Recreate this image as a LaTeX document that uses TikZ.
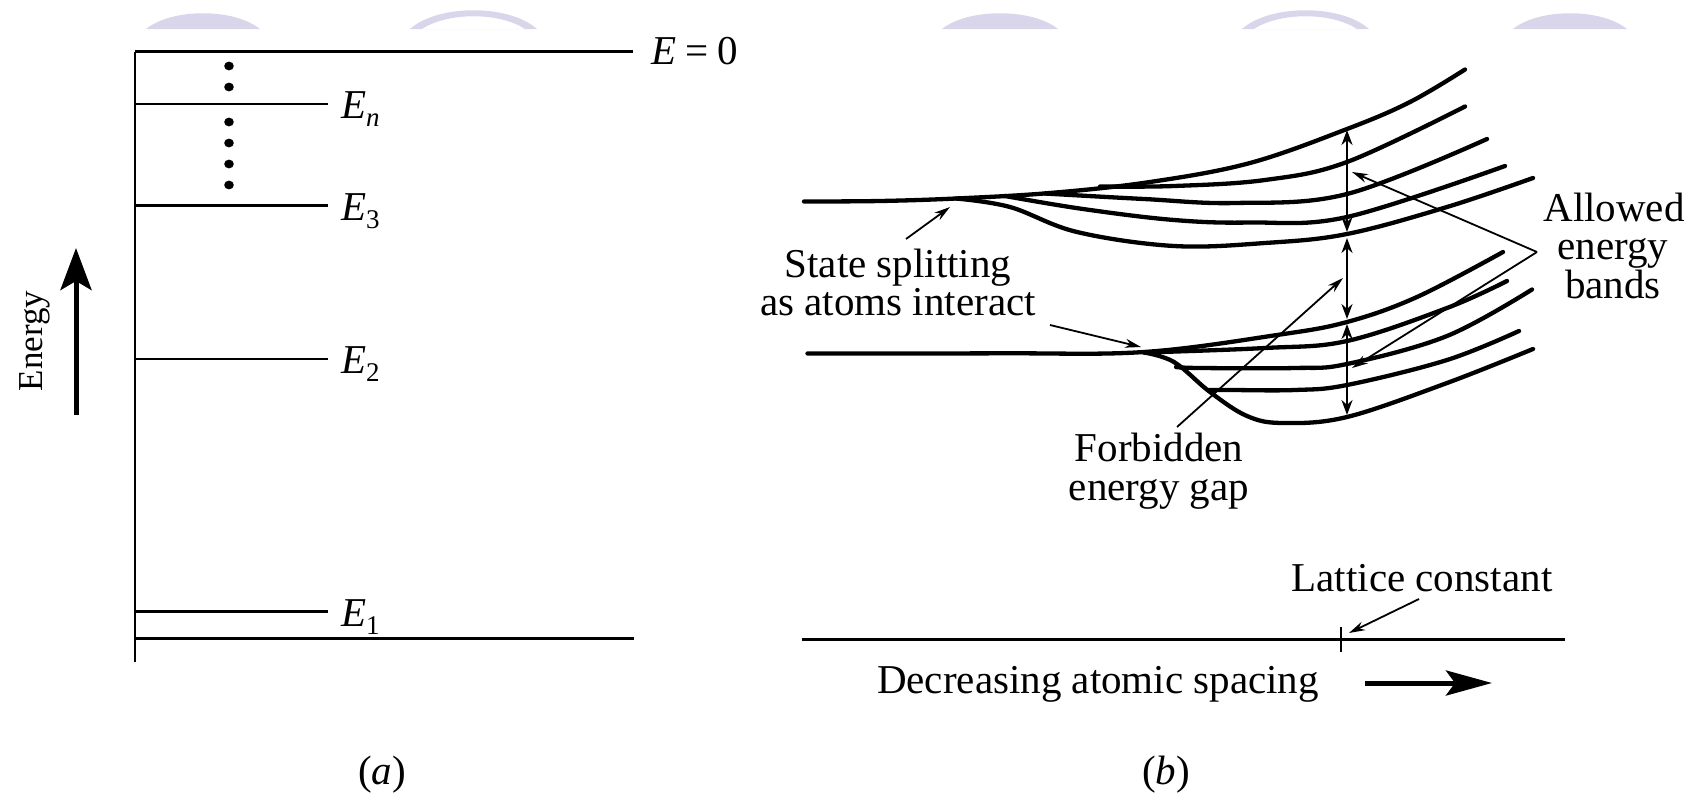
\documentclass[tikz,border=0pt]{standalone}
\usepackage{fontspec}
\setmainfont{Liberation Serif}
\usetikzlibrary{arrows.meta}
\definecolor{wmcol}{RGB}{217,214,236}
\newcommand{\Elvl}[1]{\textit{E}\raisebox{-8pt}{\fontsize{27}{27}\selectfont #1}}
\begin{document}
\begin{tikzpicture}[x=1pt,y=-1pt,
  lbl/.style={font=\fontsize{41}{39}\selectfont, inner sep=0pt},
  lvl/.style={line width=2.6pt},
  axisl/.style={line width=3pt},
  band/.style={line width=4.3pt, line cap=round, line join=round},
  lead/.style={line width=1.8pt, -{Stealth[length=16pt,width=9pt]}},
  dbl/.style={line width=2.2pt, {Stealth[length=15pt,width=11pt]}-{Stealth[length=15pt,width=11pt]}},
  wm/.style={fill=wmcol},
  dotmark/.style={fill=black}]
\useasboundingbox (0,0) rectangle (1701,793);

% watermark arches
\fill[wm] (146,29) .. controls (172,8) and (234,8) .. (260,29) -- cycle;
\fill[wm] (942,29) .. controls (968,8) and (1032,8) .. (1058,29) -- cycle;
\fill[wm] (1513,29) .. controls (1539,8) and (1601,8) .. (1627,29) -- cycle;
\fill[wm, even odd rule] (410,29) .. controls (438,4) and (509,4) .. (537,29) -- cycle
   (422,29) .. controls (448,12) and (499,12) .. (525,29) -- cycle;
\fill[wm, even odd rule] (1242,29) .. controls (1270,4) and (1341,4) .. (1369,29) -- cycle
   (1254,29) .. controls (1280,12) and (1331,12) .. (1357,29) -- cycle;

% ---------- panel (a) ----------
\coordinate (axT) at (135,51.7);
\coordinate (axB) at (135,662);
\draw[lvl] (axT) -- (axB);
\draw[axisl] (135,51.7) -- (633,51.7);
\draw[axisl] (135,638.7) -- (634,638.7);
\draw[lvl] (135,104) -- (328,104);
\draw[lvl] (135,205.7) -- (328,205.7);
\draw[lvl] (135,359) -- (328,359);
\draw[lvl] (135,611.7) -- (328,611.7);

\node[lbl, anchor=base west] (lE0) at (651,64) {\textit{E}\hspace{0.22em}=\hspace{0.22em}0};
\node[lbl, anchor=base west] (lEn) at (341,118) {\Elvl{\textit{n}}};
\node[lbl, anchor=base west] (lE3) at (341,220) {\Elvl{3}};
\node[lbl, anchor=base west] (lE2) at (341,373) {\Elvl{2}};
\node[lbl, anchor=base west] (lE1) at (341,626) {\Elvl{1}};

\foreach \yy in {66,87,122,143,164,185}
  \fill[dotmark] (229,\yy) ellipse [x radius=4.8, y radius=4.4];

\coordinate (enB) at (76,415);
\coordinate (enT) at (76,248);
\draw[line width=5pt, -{Stealth[length=42pt,width=31pt,inset=9pt]}] (enB) -- (enT);
\node[lbl, font=\fontsize{35}{35}\selectfont, anchor=base, rotate=90] (lEnergy) at (42,341) {Energy};

\node[lbl, anchor=base] (la) at (382,784) {(\textit{a})};

% ---------- panel (b) ----------
% upper band
\draw[band] plot[smooth, tension=0.6] coordinates {(804,201.5) (880,201) (956,198.5) (1050,193) (1150,182) (1250,163) (1347,129) (1410,102) (1465,69.5)};
\draw[band] plot[smooth, tension=0.6] coordinates {(1100,186.5) (1174,186) (1265,180) (1347,162) (1465,106.5)};
\draw[band] plot[smooth, tension=0.6] coordinates {(1045,193.5) (1144,199) (1235,203) (1347,194) (1487,139)};
\draw[band] plot[smooth, tension=0.6] coordinates {(1005,196) (1083,209) (1174,220) (1250,222.5) (1347,217) (1505,166)};
\draw[band] plot[smooth, tension=0.6] coordinates {(956,198.5) (1010,207) (1077,232) (1174,246) (1265,243) (1347,234) (1447,207) (1533,178)};

% lower band
\draw[band] plot[smooth, tension=0.6] coordinates {(807.5,353.5) (1000,353.3) (1144,352) (1277,335) (1347,322) (1417,297) (1503,252)};
\draw[band] plot[smooth, tension=0.6] coordinates {(1144,352.5) (1265,348) (1347,341) (1447,308) (1507,281)};
\draw[band] plot[smooth, tension=0.6] coordinates {(1144,352.5) (1174,362) (1210,392) (1247,416) (1283,423) (1347,417) (1447,383) (1533,349)};
\draw[band] plot[smooth, tension=0.6] coordinates {(1176,367) (1200,368) (1295,368) (1347,364) (1447,336) (1532,289.5)};
\draw[band] plot[smooth, tension=0.6] coordinates {(1209,390) (1230,390) (1295,390) (1347,385) (1447,360) (1519,331)};

% vertical double arrows
\coordinate (v1t) at (1347,130);
\coordinate (v1b) at (1347,232);
\coordinate (v2t) at (1347,238);
\coordinate (v2b) at (1347,319);
\coordinate (v3t) at (1347,324);
\coordinate (v3b) at (1347,415);
\draw[dbl] (v1t) -- (v1b);
\draw[dbl] (v2t) -- (v2b);
\draw[dbl] (v3t) -- (v3b);

% labels
\node[lbl, anchor=base] (ss1) at (898,277) {State splitting};
\node[lbl, anchor=base] (ss2) at (898,315) {as atoms interact};
\node[lbl, anchor=base] (fg1) at (1159,461) {Forbidden};
\node[lbl, anchor=base] (fg2) at (1159,500) {energy gap};
\node[lbl, anchor=base] (al1) at (1614,221) {Allowed};
\node[lbl, anchor=base] (al2) at (1613,259) {energy};
\node[lbl, anchor=base] (al3) at (1613,298) {bands};
\node[lbl, anchor=base] (lc) at (1422,591) {Lattice constant};
\node[lbl, anchor=base] (das) at (1098,693) {Decreasing atomic spacing};
\node[lbl, anchor=base] (lb) at (1166,784) {(\textit{b})};

% leaders
\coordinate (ssA) at (906,239);
\coordinate (ssB) at (950,207);
\draw[lead] (ssA) -- (ssB);
\coordinate (aiA) at (1050,325);
\coordinate (aiB) at (1141,347);
\draw[lead] (aiA) -- (aiB);
\coordinate (fgA) at (1177,427);
\coordinate (fgB) at (1343,278);
\draw[lead] (fgA) -- (fgB);
\coordinate (alV) at (1537,252);
\coordinate (alT1) at (1352,172);
\coordinate (alT2) at (1352,368);
\draw[lead] (alV) -- (alT1);
\draw[lead] (alV) -- (alT2);

% lattice axis
\coordinate (latL) at (801.5,639);
\coordinate (latR) at (1565,639);
\draw[axisl] (latL) -- (latR);
\draw[lvl] (1341,627) -- (1341,652);
\coordinate (lcA) at (1419,599);
\coordinate (lcB) at (1349,633);
\draw[lead] (lcA) -- (lcB);

\coordinate (dasA) at (1365,683);
\coordinate (dasB) at (1492,683);
\draw[line width=5pt, -{Stealth[length=46pt,width=25pt,inset=9pt]}] (dasA) -- (dasB);
\end{tikzpicture}
\end{document}
